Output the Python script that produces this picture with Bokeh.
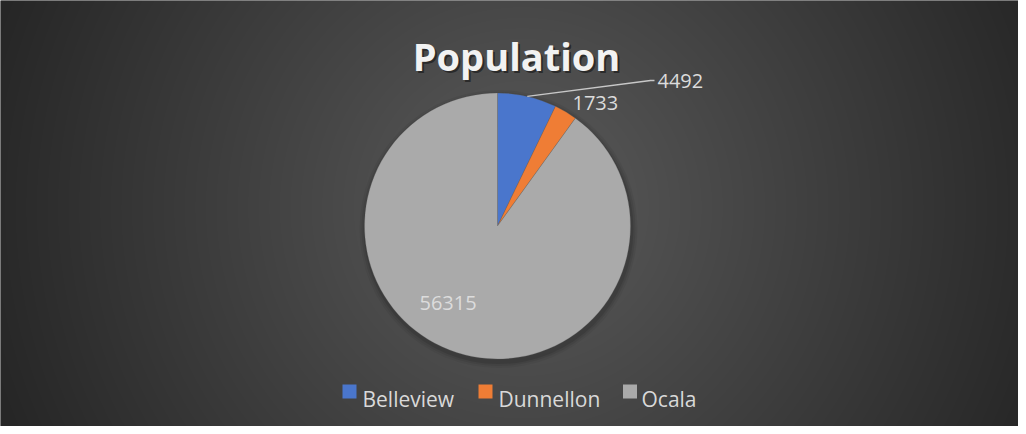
import numpy as np
from bokeh.plotting import figure
from bokeh.models import Range1d, ColumnDataSource
from bokeh.core.properties import value
from bokeh.embed import file_html
from bokeh.resources import INLINE

# ---- data ----
categories = ["Belleview", "Dunnellon", "Ocala"]
populations = [4492, 1733, 56315]
colors = ["#4a76cc", "#ef7d35", "#aaaaaa"]
title_text = "Population"

# ---- layout (image pixel coords; y measured from top of window) ----
W, H = 1018, 426
X0, Y0 = 8, 8
def yd(y_img):
    return (Y0 + H) - y_img

p = figure(width=W, height=H, output_backend="svg", toolbar_location=None,
           x_range=Range1d(X0, X0 + W), y_range=Range1d(0, H),
           min_border=0, outline_line_color=None)
p.axis.visible = False
p.grid.visible = False
p.background_fill_color = "#333333"
p.border_fill_color = "#333333"

# background radial gradient
gx = np.arange(W) + X0 + 0.5
gy = np.arange(H)[::-1] + Y0 + 0.5  # row 0 at bottom
XX, YY = np.meshgrid(gx, gy)
cx, cy = 530.0, 215.0
d = np.sqrt((XX - cx) ** 2 + (YY - cy) ** 2) / 560.0
d = np.clip(d, 0, 1)
c_in, c_out = 0x5b, 0x26
lev = (c_in + (c_out - c_in) * d).astype(np.uint32)
img = (255 << 24) | (lev << 16) | (lev << 8) | lev
p.image_rgba(image=[img.view(np.uint32).reshape(H, W)], x=X0, y=0, dw=W, dh=H)

# pie geometry
pcx, pcy, R = 505.0, 233.5, 133.0
total = float(sum(populations))
cum = np.cumsum([0] + populations)
start = [np.pi / 2 - 2 * np.pi * cum[i] / total for i in range(len(populations))]
end = [np.pi / 2 - 2 * np.pi * cum[i + 1] / total for i in range(len(populations))]

# soft shadow
for k, a in [(6, 0.05), (4, 0.07), (2, 0.1)]:
    p.scatter(x=[pcx + 1], y=[yd(pcy) - 3], size=2 * (R + k), marker="circle",
              fill_color="black", fill_alpha=a, line_color=None)

src = ColumnDataSource(dict(cat=categories, val=populations, color=colors,
                            start=start, end=end))
p.wedge(x=pcx, y=yd(pcy), radius=R, start_angle="start", end_angle="end",
        direction="clock", fill_color="color", line_color="#606060",
        line_alpha=0.35, line_width=0.75, source=src)

# data labels
label_pos = [(665, 88), (580, 110), (427, 310)]
lx = [q[0] for q in label_pos]
ly = [yd(q[1]) for q in label_pos]
p.text(x=lx, y=ly, text=[str(v) for v in populations],
       text_font=value("Open Sans"), text_font_size="20px",
       text_color="#dcdcdc", text_align="left", text_baseline="alphabetic")

# leader line for the first slice
mid0 = (start[0] + end[0]) / 2
sx = pcx + R * np.cos(mid0)
sy = yd(pcy) + R * np.sin(mid0)
p.line(x=[sx, 658, 662], y=[sy, yd(88), yd(88)], line_color="#c8c8c8", line_width=1.5)

# title with shadow
p.text(x=[526], y=[yd(63) - 2], text=[title_text], text_font=value("Open Sans"),
       text_font_size="38px", text_font_style="bold", text_color="black",
       text_alpha=0.45, text_align="center", text_baseline="alphabetic")
p.text(x=[524], y=[yd(63)], text=[title_text], text_font=value("Open Sans"),
       text_font_size="38px", text_font_style="bold", text_color="#f2f2f2",
       text_align="center", text_baseline="alphabetic")

# legend
leg_sq_x = [357, 493, 637.5]
leg_tx = [370, 506, 649]
p.scatter(x=leg_sq_x, y=[yd(399)] * 3, marker="square", size=14,
          fill_color=colors, line_color=None)
p.text(x=leg_tx, y=[yd(406)] * 3, text=categories, text_font=value("Open Sans"),
       text_font_size="21px", text_color="#d9d9d9", text_align="left",
       text_baseline="alphabetic")

open("out.html", "w").write(file_html(p, INLINE))
